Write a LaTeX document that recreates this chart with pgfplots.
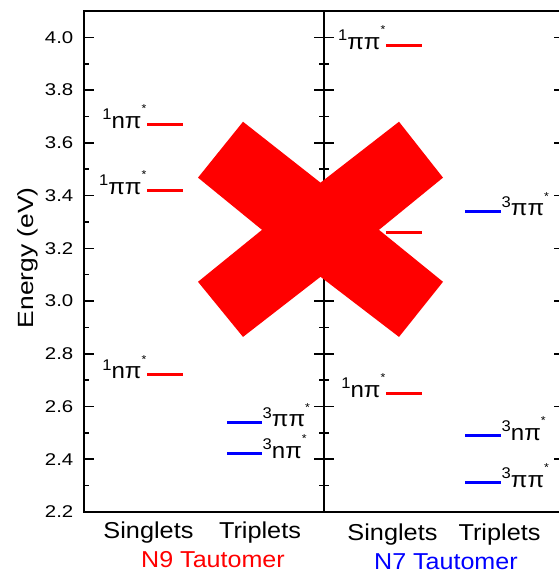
\documentclass[border=0pt]{standalone}
\usepackage{fontspec}
\setmainfont{Liberation Sans}
\usepackage{graphicx}
\usepackage{pgfplots}
\pgfplotsset{compat=1.18}

\definecolor{lvred}{RGB}{255,0,0}
\definecolor{lvblue}{RGB}{0,0,255}

% horizontal stretch, the reference lettering is a little wide
\newcommand{\sx}[2]{\scalebox{#1}[1]{#2}}
\newcommand{\lab}{\fontsize{22.5}{22.5}\selectfont}
% state label: multiplicity, orbital part, star
\newcommand{\st}[2]{\sx{1.07}{\raisebox{8.6pt}{\fontsize{15.5}{15.5}\selectfont #1}#2\raisebox{15.5pt}{\fontsize{11.5}{11.5}\selectfont *}}}

\pgfplotsset{
  lvlaxis/.style={
    anchor=south west,
    width=240pt, height=501pt, scale only axis,
    xmin=0, xmax=240, ymin=2.2, ymax=4.1,
    ytick={2.2,2.4,2.6,2.8,3.0,3.2,3.4,3.6,3.8,4.0},
    minor y tick num=1,
    tick align=inside,
    ytick pos=both,
    major tick length=10pt, minor tick length=5pt,
    every tick/.style={black, line width=1.6pt},
    axis line style={line width=1.8pt},
    xtick style={draw=none},
    xtick pos=bottom,
    xticklabel style={anchor=base, font=\fontsize{23}{23}\selectfont},
    xlabel style={anchor=base, font=\fontsize{23}{23}\selectfont},
    /pgf/number format/assume math mode=true,
    clip=false,
  },
}

\begin{document}
\begin{tikzpicture}

% ---- N9 tautomer ----
\begin{axis}[lvlaxis,
  at={(0pt,0pt)},
  yticklabel pos=left,
  yticklabel={\sx{1.2}{\pgfmathprintnumber[fixed,fixed zerofill,precision=1]{\tick}}},
  yticklabel style={font=\fontsize{17}{17}\selectfont, inner sep=0pt, xshift=-10.5pt},
  xtick={64.5,176},
  xticklabels={\sx{1.1}{Singlets},\sx{1.1}{Triplets}},
  xticklabel style={yshift=-26.7pt},
  xlabel={\sx{1.09}{N9 Tautomer}},
  xlabel style={at={(rel axis cs:0.5375,0)}, yshift=-55pt, text=lvred},
  ylabel={\sx{1.2}{Energy (eV)}},
  ylabel style={at={(axis cs:-56,3.164)}, anchor=center, font=\fontsize{22}{22}\selectfont},
]
% singlets
\addplot[lvred, line width=3pt] coordinates {(63,3.67) (99,3.67)};
\addplot[lvred, line width=3pt] coordinates {(63,3.42) (99,3.42)};
\addplot[lvred, line width=3pt] coordinates {(63,2.72) (99,2.72)};
% triplets
\addplot[lvblue, line width=3pt] coordinates {(143,2.54) (178,2.54)};
\addplot[lvblue, line width=3pt] coordinates {(143,2.42) (178,2.42)};

\node[anchor=base east, inner sep=0pt, yshift=-4pt, font=\lab] at (axis cs:62.5,3.67) {\st{1}{nπ}};
\node[anchor=base east, inner sep=0pt, yshift=-4pt, font=\lab] at (axis cs:62.5,3.42) {\st{1}{ππ}};
\node[anchor=base east, inner sep=0pt, yshift=-4pt, font=\lab] at (axis cs:62.5,2.72) {\st{1}{nπ}};
\node[anchor=base west, inner sep=0pt, yshift=-4.5pt, font=\lab] at (axis cs:178.5,2.54) {\st{3}{ππ}};
\node[anchor=base west, inner sep=0pt, yshift=-4.5pt, font=\lab] at (axis cs:178.5,2.42) {\st{3}{nπ}};
\end{axis}

% ---- N7 tautomer ----
\begin{axis}[lvlaxis,
  at={(240pt,0pt)},
  yticklabels={},
  xtick={68.5,175.5},
  xticklabels={\sx{1.1}{Singlets},\sx{1.1}{Triplets}},
  xticklabel style={yshift=-28.5pt},
  xlabel={\sx{1.09}{N7 Tautomer}},
  xlabel style={at={(rel axis cs:0.508,0)}, yshift=-57pt, text=lvblue},
]
% singlets
\addplot[lvred, line width=3pt] coordinates {(62,3.97) (98,3.97)};
\addplot[lvred, line width=3pt] coordinates {(62,3.26) (98,3.26)};
\addplot[lvred, line width=3pt] coordinates {(62,2.65) (98,2.65)};
% triplets
\addplot[lvblue, line width=3pt] coordinates {(141,3.34) (177,3.34)};
\addplot[lvblue, line width=3pt] coordinates {(141,2.49) (177,2.49)};
\addplot[lvblue, line width=3pt] coordinates {(141,2.31) (177,2.31)};

\node[anchor=base east, inner sep=0pt, yshift=-4pt, font=\lab] at (axis cs:61.5,3.97) {\st{1}{ππ}};
\node[anchor=base east, inner sep=0pt, yshift=-4pt, font=\lab] at (axis cs:61.5,2.65) {\st{1}{nπ}};
\node[anchor=base west, inner sep=0pt, yshift=-4.5pt, font=\lab] at (axis cs:177.5,3.34) {\st{3}{ππ}};
\node[anchor=base west, inner sep=0pt, yshift=-4.5pt, font=\lab] at (axis cs:177.5,2.49) {\st{3}{nπ}};
\node[anchor=base west, inner sep=0pt, yshift=-4.5pt, font=\lab] at (axis cs:177.5,2.31) {\st{3}{ππ}};

% the big cross laid over both panels
\addplot[fill=lvred, draw=none] coordinates {
  (-81,3.680) (-3.5,3.449) (75,3.680) (119,3.468) (55,3.270) (119,3.073)
  (75,2.864) (-3.5,3.092) (-81,2.864) (-126,3.073) (-62,3.270) (-126,3.468)
  (-81,3.680)
};
\end{axis}

\pgfresetboundingbox
\path[use as bounding box] (-84pt,-61pt) rectangle (475pt,512pt);
\end{tikzpicture}
\end{document}
